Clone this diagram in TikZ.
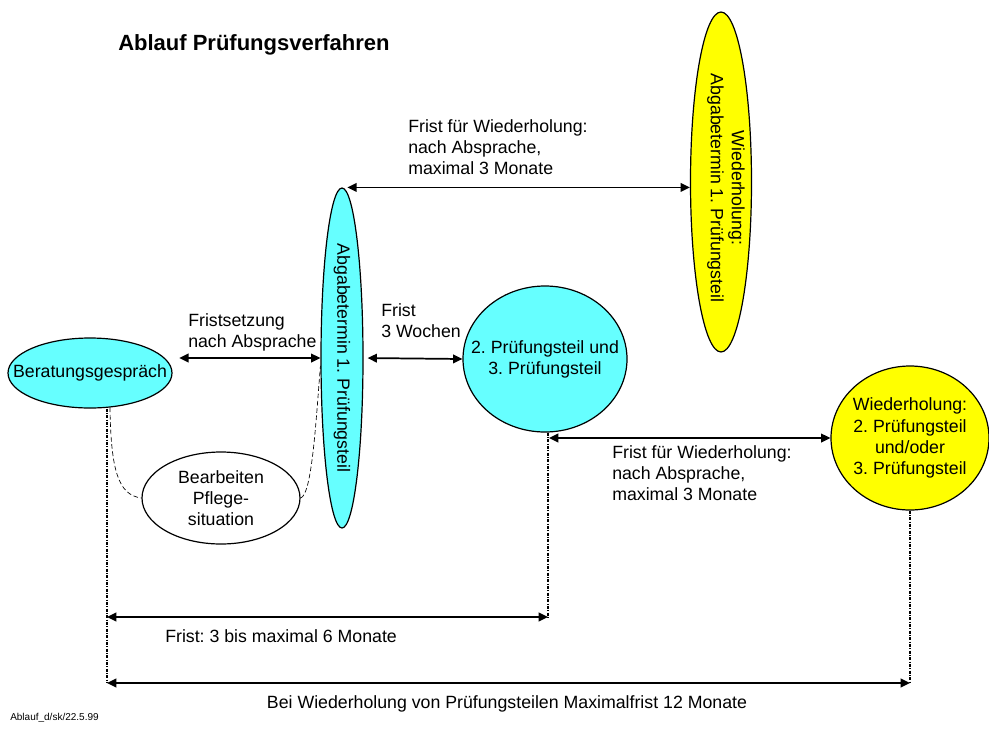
\documentclass[tikz,border=0pt]{standalone}
\usepackage{fontspec}
\setmainfont{Liberation Sans}
\usepackage{tikz}
\usetikzlibrary{shapes.geometric,arrows.meta}
\definecolor{cyanfill}{HTML}{66FFFF}
\definecolor{yellowfill}{HTML}{FFFF00}
\frenchspacing

\begin{document}
\begin{tikzpicture}[x=0.75pt,y=-0.75pt,
	every node/.style={font=\fontsize{13.3}{15.8}\selectfont},
	ell/.style={ellipse,draw,line width=0.9pt,inner sep=0pt},
	lbl/.style={anchor=west,align=left,inner sep=0pt},
	arr/.style={{Triangle[length=7pt,width=6.5pt]}-{Triangle[length=7pt,width=6.5pt]},line width=1.3pt},
	guide/.style={line width=1pt,dash pattern=on 2.2pt off 1pt on 0.8pt off 1pt},
	hint/.style={line width=0.5pt,dash pattern=on 3.5pt off 2pt}]
	\useasboundingbox (0,0) rectangle (989,729);

	\node[anchor=west,inner sep=0pt,font=\fontsize{16.5}{19}\selectfont\bfseries] (title) at (118,45) {Ablauf Prüfungsverfahren};

	\coordinate (fA) at (107,617);
	\coordinate (fB) at (548,617);
	\coordinate (mA) at (107,683);
	\coordinate (mB) at (910,683);

	\node[ell,fill=cyanfill,minimum width=123pt,minimum height=52.5pt,
		label={[align=center]center:Beratungsgespräch}] (bg) at (90,373) {};
	\node[ell,fill=cyanfill,minimum width=31.5pt,minimum height=255pt,
		label={[rotate=-90]center:Abgabetermin 1. Prüfungsteil}] (ab) at (342,358) {};
	\node[ell,fill=cyanfill,minimum width=123pt,minimum height=109.5pt,
		label={[align=center]center:2. Prüfungsteil und\\3. Prüfungsteil}] (p2) at (545,359) {};
	\node[ell,fill=yellowfill,minimum width=45.75pt,minimum height=255pt] (yw) at (721,182) {};
	\node[rotate=-90,align=center] (ywtext) at (726,188) {Wiederholung:\\Abgabetermin 1. Prüfungsteil};
	\node[ell,fill=yellowfill,minimum width=118.5pt,minimum height=108pt,
		label={[align=center]center:Wiederholung:\\2. Prüfungsteil\\und/oder\\3. Prüfungsteil}] (yr) at (910,438) {};
	\node[ell,fill=white,minimum width=118.5pt,minimum height=69pt,
		label={[align=center]center:Bearbeiten\\Pflege-\\situation}] (pf) at (221,498) {};

	\node[lbl] (fristsetz) at (188,332) {Fristsetzung\\nach Absprache};
	\node[lbl] (drei) at (381,321) {Frist\\3 Wochen};
	\node[lbl] (wdhoben) at (408,147) {Frist für Wiederholung:\\nach Absprache,\\maximal 3 Monate};
	\node[lbl] (wdhrechts) at (612,473) {Frist für Wiederholung:\\nach Absprache,\\maximal 3 Monate};
	\node[lbl] (sechs) at (165,636) {Frist: 3 bis maximal 6 Monate};
	\node[inner sep=0pt] (zwoelf) at (507,704) {Bei Wiederholung von Prüfungsteilen Maximalfrist 12 Monate};
	\node[anchor=west,inner sep=0pt,font=\fontsize{7.5}{9}\selectfont] (stamp) at (10,718) {Ablauf\_d/sk/22.5.99};

\draw[guide] (bg.south -| fA) -- (mA);
\draw[guide] (p2.south -| fB) -- (fB);
\draw[guide] (yr.south) -- (mB);

\draw[hint] (bg.300) .. controls (111,470) and (118,495) .. (pf.west);
\draw[hint] (pf.east) .. controls (312,495) and (316,420) .. (ab.200);

\draw[arr,shorten <=5pt] (bg.east |- ab.center) -- (ab.west);
\draw[arr,shorten <=3pt] (ab.east) -- (p2.west);
\draw[arr,shorten <=4pt] (ab.north) -- (ab.north -| yw.west);
\draw[arr,shorten <=3pt] (yr.west -| p2.south) -- (yr.west);
\draw[arr] (fA) -- (fB);
\draw[arr] (mA) -- (mB);
\end{tikzpicture}
\end{document}
